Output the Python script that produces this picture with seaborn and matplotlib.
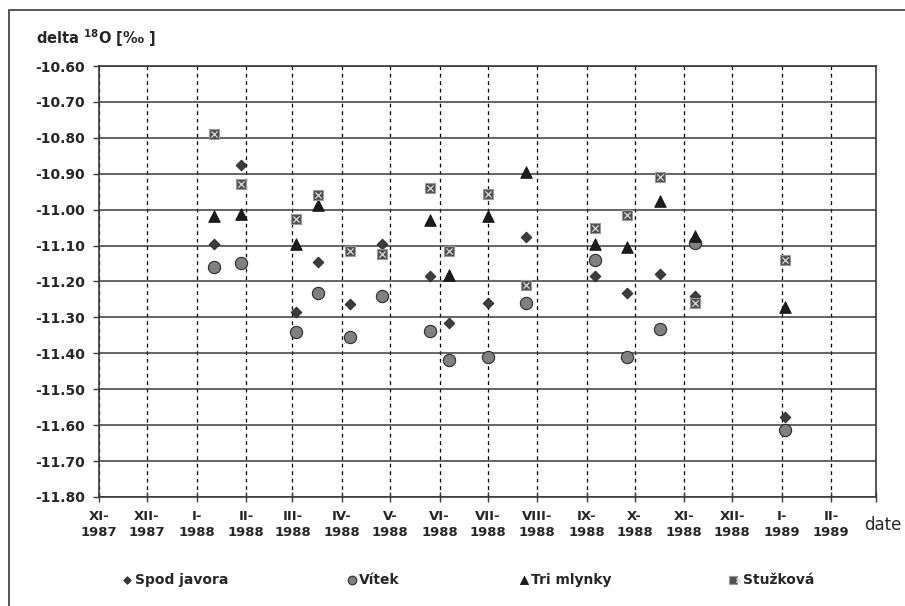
import matplotlib
matplotlib.use('Agg')  # no display
import matplotlib.pyplot as plt
from matplotlib.patches import Rectangle
from matplotlib.legend_handler import HandlerTuple
import seaborn as sns
import numpy as np
import pandas as pd

# sampling dates and delta 18O values per spring
dates = ['1988-01-12', '1988-01-29', '1988-03-03', '1988-03-17', '1988-04-06',
         '1988-04-26', '1988-05-26', '1988-06-07', '1988-07-01', '1988-07-25',
         '1988-09-06', '1988-09-26', '1988-10-17', '1988-11-08', '1989-01-03']
spod_javora = [-11.096, -10.876, -11.286, -11.147, -11.263, -11.096, -11.185, -11.316,
               -11.259, -11.075, -11.184, -11.231, -11.180, -11.240, -11.576]
vitek = [-11.161, -11.148, -11.341, -11.233, -11.355, -11.240, -11.337, -11.419,
         -11.409, -11.259, -11.140, -11.409, -11.333, -11.092, -11.613]
tri_mlynky = [-11.018, -11.013, -11.096, -10.986, np.nan, np.nan, -11.029, -11.182,
              -11.019, -10.896, -11.096, -11.103, -10.976, -11.073, -11.270]
stuzkova = [-10.790, -10.929, -11.025, -10.958, -11.115, -11.124, -10.940, -11.115,
            -10.955, -11.210, -11.050, -11.016, -10.908, -11.261, -11.140]

series_names = ['Spod javora', 'Vítek', 'Tri mlynky', 'Stužková']

tick_labels = ['XI-\n1987', 'XII-\n1987', 'I-\n1988', 'II-\n1988', 'III-\n1988', 'IV-\n1988',
               'V-\n1988', 'VI-\n1988', 'VII-\n1988', 'VIII-\n1988', 'IX-\n1988', 'X-\n1988',
               'XI-\n1988', 'XII-\n1988', 'I-\n1989', 'II-\n1989', '']
y_ticks = [-11.80, -11.70, -11.60, -11.50, -11.40, -11.30, -11.20, -11.10,
           -11.00, -10.90, -10.80, -10.70, -10.60]

sns.set_style('white')
plt.rcParams['font.family'] = ['DejaVu Sans']
plt.rcParams['axes.unicode_minus'] = False

x = pd.to_datetime(dates)

fig = plt.figure(figsize=(9.05, 6.06), dpi=100)
ax = fig.add_axes([99 / 905, 1 - 497 / 606, 777 / 905, 431 / 606])

sns.scatterplot(x=x, y=spod_javora, marker='D', s=30, color='#3d3d3d',
                edgecolor='#222222', linewidth=0.6, ax=ax, zorder=3)
sns.scatterplot(x=x, y=vitek, marker='o', s=78, color='#808080',
                edgecolor='#2b2b2b', linewidth=0.8, ax=ax, zorder=3)
sns.scatterplot(x=x, y=tri_mlynky, marker='^', s=70, color='#1c1c1c',
                edgecolor='#111111', linewidth=0.6, ax=ax, zorder=3)
sns.scatterplot(x=x, y=stuzkova, marker='s', s=62, color='#4f4f4f',
                edgecolor='#9a9a9a', linewidth=0.8, ax=ax, zorder=3)
sns.scatterplot(x=x, y=stuzkova, marker='x', s=20, color='#dcdcdc',
                linewidth=0.9, ax=ax, zorder=4)

# month grid
month_ticks = pd.date_range('1987-11-01', '1989-03-01', freq='MS')
ax.set_xlim(month_ticks[0], month_ticks[-1])
ax.set_xticks(month_ticks)
ax.set_xticklabels(tick_labels)
ax.set_ylim(-11.80, -10.60)
ax.set_yticks(y_ticks)
ax.set_yticklabels([f'{v:.2f}' for v in y_ticks])
ax.set_xlabel('')
ax.set_ylabel('')

ax.set_axisbelow(True)
ax.yaxis.grid(True, color='#3a3a3a', lw=1.1, ls='-')
ax.xaxis.grid(True, color='black', lw=0.9, ls=(0, (3, 3)))
for sp in ax.spines.values():
    sp.set_color('#3a3a3a')
    sp.set_linewidth(1.2)

ax.tick_params(axis='y', left=True, direction='out', length=4, width=1,
               color='#3a3a3a', pad=6, labelsize=10)
ax.tick_params(axis='x', bottom=True, direction='inout', length=7, width=1,
               color='#3a3a3a', pad=6, labelsize=9.5)
for lbl in ax.get_xticklabels() + ax.get_yticklabels():
    lbl.set_fontweight('bold')
for lbl in ax.get_xticklabels():
    lbl.set_linespacing(1.25)

fig.text(36 / 905, 1 - 38 / 606, r'delta $^{\mathbf{18}}$O [‰ ]', fontsize=10.5,
         fontweight='bold', va='center', ha='left')
fig.text(864 / 905, 1 - 525 / 606, 'date', fontsize=12, va='center', ha='left')

handles = [ax.collections[0], ax.collections[1], ax.collections[2],
           (ax.collections[3], ax.collections[4])]
fig.legend(handles, series_names, loc='center', bbox_to_anchor=(468 / 905, 1 - 580 / 606),
           ncol=4, frameon=False, markerscale=0.7, handlelength=0.8,
           handletextpad=0.15, columnspacing=8.5,
           handler_map={tuple: HandlerTuple(ndivide=None, pad=0)},
           prop={'weight': 'bold', 'size': 10})

# outer chart frame (clipped on the right and bottom)
fig.add_artist(Rectangle((9 / 905, -0.1), 1.2, 1.1 - 10 / 606, transform=fig.transFigure,
                         fill=False, edgecolor='#3a3a3a', linewidth=1.2))

fig.savefig('out.png', dpi=100)
